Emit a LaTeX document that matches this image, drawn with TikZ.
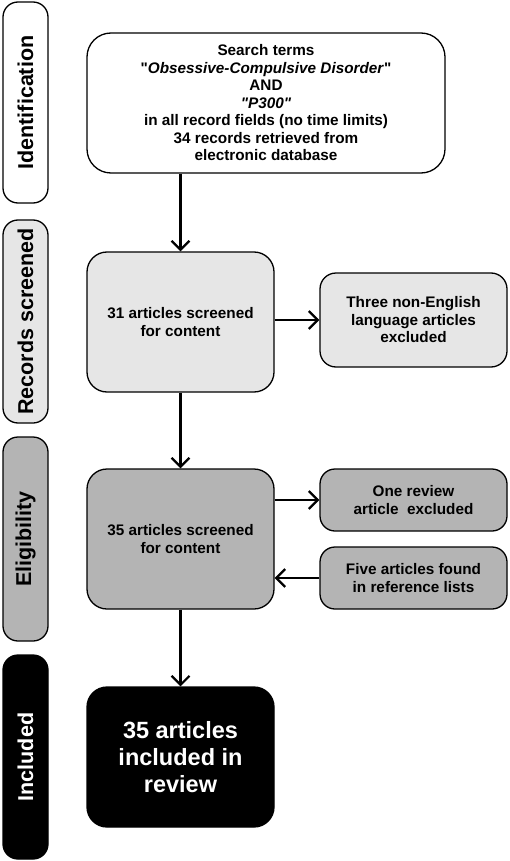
\documentclass[tikz,border=0pt]{standalone}
\usepackage{fontspec}
\newfontfamily\mainf{Liberation Sans}
\usetikzlibrary{arrows.meta}
\definecolor{lgray}{HTML}{E6E6E6}
\definecolor{mgray}{HTML}{B4B4B4}
\begin{document}
\begin{tikzpicture}[x=1pt,y=-1pt,
  box/.style={draw=black,line width=1.3pt,rounded corners=#1,align=center,inner sep=0pt,
     font=\mainf\fontsize{15.3}{17.5}\selectfont\bfseries},
  box/.default=16pt,
  side/.style={draw=black,line width=1.3pt,rounded corners=15pt,rotate=90,inner sep=0pt,
     minimum height=45pt,font=\mainf\fontsize{21.5}{24}\selectfont\bfseries},
  arr/.style={line width=2.2pt,-{Straight Barb[length=9pt,width=18pt,line width=2.2pt]}}]
\useasboundingbox (0,0) rectangle (510,861);
% side labels
\node[side,fill=white,minimum width=201pt] (idlab) at (25.5,102.5) {Identification};
\node[side,fill=lgray,minimum width=203pt] (rslab) at (25.5,321.5) {Records screened};
\node[side,fill=mgray,minimum width=204pt] (ellab) at (25.5,539) {Eligibility};
\node[side,fill=black,text=white,minimum width=204pt] (inlab) at (25.5,757) {Included};
% main boxes
\node[box=24pt,fill=white,minimum width=358pt,minimum height=140pt] (search) at (266,103)
  {Search terms\\ "\textit{Obsessive-Compulsive Disorder}"\\ AND\\ \textit{"P300"}\\
   in all record fields (no time limits)\\ 34 records retrieved from\\ electronic database};
\node[box=20pt,fill=lgray,minimum width=187pt,minimum height=140pt] (scr1) at (180.5,322)
  {31 articles screened\\ for content};
\node[box=16pt,fill=lgray,minimum width=187pt,minimum height=94pt] (excl1) at (413.5,320)
  {Three non-English\\ language articles\\ excluded};
\node[box=20pt,fill=mgray,minimum width=187pt,minimum height=140pt] (scr2) at (180.5,539)
  {35 articles screened\\ for content};
\node[box=15pt,fill=mgray,minimum width=187pt,minimum height=62pt] (excl2) at (413.5,500)
  {One review\\ article~ excluded};
\node[box=15pt,fill=mgray,minimum width=187pt,minimum height=62pt] (found) at (413.5,578)
  {Five articles found\\ in reference lists};
\node[box=20pt,fill=black,text=white,minimum width=187pt,minimum height=140pt,
  font=\mainf\fontsize{23.5}{26.7}\selectfont\bfseries] (incl) at (180.5,757)
  {35 articles\\ included in\\ review};
% connectors
\draw[arr] (scr1.north |- search.south) -- (scr1.north);
\draw[arr] (scr1.east |- excl1.west) -- (excl1.west);
\draw[arr] (scr1.south) -- (scr2.north);
\draw[arr] (scr2.east |- excl2.west) -- (excl2.west);
\draw[arr] (found.west) -- (scr2.east |- found.west);
\draw[arr] (scr2.south) -- (incl.north);
\end{tikzpicture}
\end{document}
